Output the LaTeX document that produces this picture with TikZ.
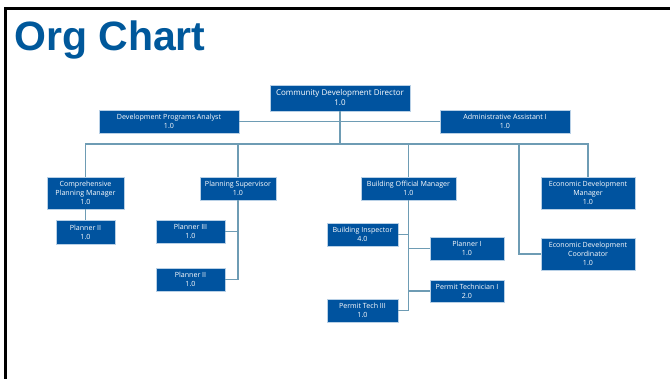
\documentclass[tikz,border=0pt]{standalone}
\usepackage{fontspec}
\setmainfont{Open Sans}
\newfontfamily\titlefont{Liberation Sans}
\definecolor{boxblue}{HTML}{00539F}
\definecolor{boxedge}{HTML}{B8D0E6}
\definecolor{linkcol}{HTML}{6E9CB4}
\definecolor{titleblue}{HTML}{00589B}
\tikzset{
  orgbox/.style={draw=boxedge, line width=0.7pt, fill=boxblue, text=white,
    inner sep=0pt, align=center, font=\fontsize{7.1}{9}\selectfont},
  link/.style={draw=linkcol, line width=1.3pt},
  frameline/.style={draw=black, line width=2.6pt}
}
\begin{document}
\begin{tikzpicture}[x=1pt, y=-1pt]
\useasboundingbox (0,0) rectangle (670,379);
\draw[frameline] (5.5,379) -- (5.5,8.3) -- (670,8.3);
\node[anchor=base west, text=titleblue, font=\titlefont\bfseries\fontsize{41}{44}\selectfont, inner sep=0pt] (title) at (14,50.5) {Org Chart};

% boxes
\node[orgbox, minimum width=140pt, minimum height=26pt, font=\fontsize{8}{10}\selectfont] (dir) at (340,98) {Community Development Director\\1.0};
\node[orgbox, minimum width=140pt, minimum height=23pt] (dpa) at (169,121.5) {Development Programs Analyst\\1.0};
\node[orgbox, minimum width=130pt, minimum height=23pt] (aa) at (505,121.5) {Administrative Assistant I\\1.0};
\node[orgbox, minimum width=77pt, minimum height=32pt] (cpm) at (85.5,193) {Comprehensive\\Planning Manager\\1.0};
\node[orgbox, minimum width=59pt, minimum height=24pt] (p2a) at (85.5,232) {Planner II\\1.0};
\node[orgbox, minimum width=76pt, minimum height=23pt] (ps) at (238,188.5) {Planning Supervisor\\1.0};
\node[orgbox, minimum width=69pt, minimum height=23pt] (p3) at (190.5,231.5) {Planner III\\1.0};
\node[orgbox, minimum width=69pt, minimum height=23pt] (p2b) at (190.5,279.5) {Planner II\\1.0};
\node[orgbox, minimum width=95pt, minimum height=23pt] (bom) at (408.5,188.5) {Building Official Manager\\1.0};
\node[orgbox, minimum width=71pt, minimum height=23pt] (bi) at (362.5,234.5) {Building Inspector\\4.0};
\node[orgbox, minimum width=74pt, minimum height=23pt] (p1) at (467,248.5) {Planner I\\1.0};
\node[orgbox, minimum width=74pt, minimum height=22pt] (pt1) at (467,291) {Permit Technician I\\2.0};
\node[orgbox, minimum width=71pt, minimum height=23pt] (pt3) at (362.5,310.5) {Permit Tech III\\1.0};
\node[orgbox, minimum width=94pt, minimum height=32pt] (edm) at (588,193) {Economic Development\\Manager\\1.0};
\node[orgbox, minimum width=94pt, minimum height=32pt] (edc) at (588,254) {Economic Development\\Coordinator\\1.0};

\coordinate (bus) at (340,144);
\coordinate (edcj) at (519,144);

% connectors
\draw[link] (dpa.east) -- (aa.west);
\draw[link] (dir.south) -- (bus);
\draw[link] (cpm.north) |- (bus) -| (edm.north);
\draw[link] (ps.north) -- (ps.north |- bus);
\draw[link] (bom.north) -- (bom.north |- bus);
\draw[link] (edc.west) -| (edcj);
\draw[link] (cpm.south) -- (p2a.north);
\draw[link] (ps.south) |- (p2b.east);
\draw[link] (p3.east) -- (p3.east -| ps.south);
\draw[link] (bom.south) |- (pt3.east);
\draw[link] (bi.east) -- (bi.east -| bom.south);
\draw[link] (p1.west) -- (p1.west -| bom.south);
\draw[link] (pt1.west) -- (pt1.west -| bom.south);
\end{tikzpicture}
\end{document}
